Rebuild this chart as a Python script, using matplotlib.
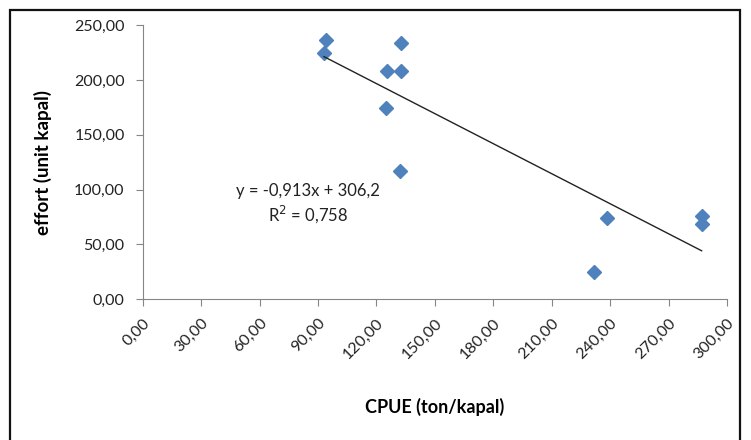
import matplotlib
matplotlib.use("Agg")
import matplotlib.pyplot as plt
from matplotlib.patches import Rectangle
import numpy as np

plt.rcParams['font.family'] = ['Lato', 'DejaVu Sans']

# CPUE (ton/kapal) vs effort (unit kapal)
cpue = [94.1, 93.1, 132.5, 125.6, 132.5, 124.9, 132.0, 238.2, 231.5, 287.0, 287.0]
effort = [236.4, 224.5, 233.3, 208.5, 208.5, 174.2, 117.0, 73.6, 24.5, 76.0, 69.0]

slope = -0.913
intercept = 306.2
eq_text = "y = -0,913x + 306,2\nR$^2$ = 0,758"

xticks = np.arange(0, 301, 30)
yticks = np.arange(0, 251, 50)

fig = plt.figure(figsize=(7.51, 4.40), dpi=100)
ax = fig.add_axes([0.190, 0.320, 0.778, 0.623])

# outer frame
fig.patches.append(Rectangle((10 / 751, -0.02), 730 / 751, 1 - 10 / 440 + 0.02,
                             transform=fig.transFigure, fill=False,
                             edgecolor='#111111', lw=1.6))

ax.plot(cpue, effort, linestyle='none', marker='D', markersize=7.5,
        color='#4F81BD', markeredgecolor='#4F81BD')

# linear trendline over data range
xl = np.array([min(cpue), max(cpue)])
ax.plot(xl, slope * xl + intercept, color='#222222', lw=1.0)

ax.text(85, 87, eq_text, ha='center', va='center', fontsize=12,
        color='#222222', linespacing=1.25)

ax.set_xlim(0, 300)
ax.set_ylim(0, 250)
ax.set_xticks(xticks)
ax.set_yticks(yticks)
ax.set_xticklabels([f"{v:.2f}".replace('.', ',') for v in xticks],
                   rotation=45, ha='right', va='top', rotation_mode='anchor')
ax.set_yticklabels([f"{v:.2f}".replace('.', ',') for v in yticks])

for s in ['top', 'right']:
    ax.spines[s].set_visible(False)
for s in ['left', 'bottom']:
    ax.spines[s].set_color('#868686')
ax.tick_params(axis='both', colors='#868686', labelcolor='#222222',
               labelsize=11.5, length=5, direction='out')
ax.tick_params(axis='y', pad=8)
ax.tick_params(axis='x', pad=7)

ax.set_xlabel("CPUE (ton/kapal)", fontsize=13, fontweight='bold', labelpad=26)
ax.set_ylabel("effort (unit kapal)", fontsize=13.5, fontweight='bold', labelpad=16)

fig.savefig("out.png", dpi=100)
